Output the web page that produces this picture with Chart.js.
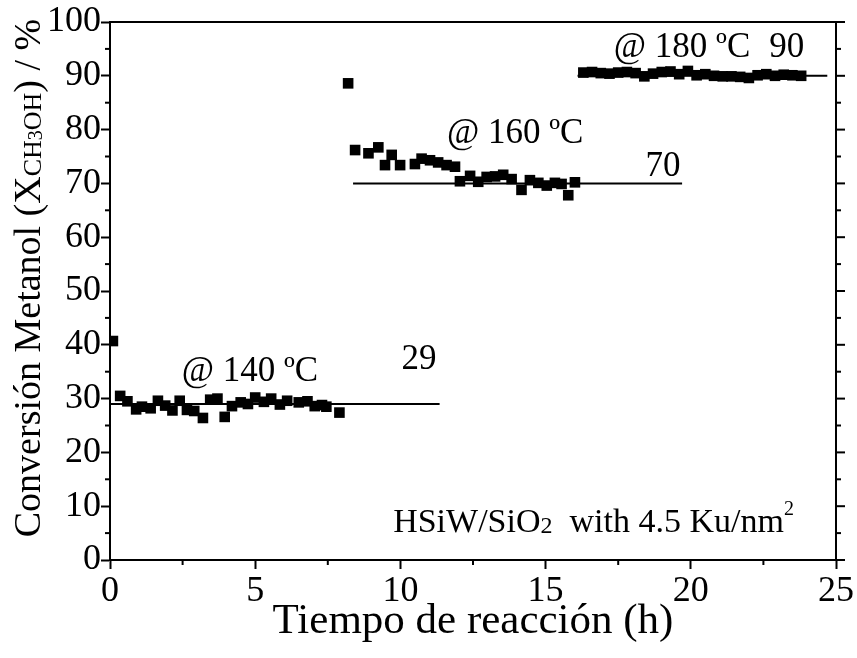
<!DOCTYPE html>
<html>
<head>
<meta charset="utf-8">
<script src="https://cdn.jsdelivr.net/npm/chart.js@4/dist/chart.umd.min.js"></script>
<style>
html,body{margin:0;padding:0;background:#fff;}
#wrap{width:857px;height:658px;position:relative;}
</style>
</head>
<body>
<div id="wrap"><canvas id="c" width="857" height="658"></canvas></div>
<script>
// ---- data ----
const time140 = [0.1,0.35,0.6,0.9,1.1,1.4,1.65,1.9,2.15,2.4,2.65,2.9,3.2,3.45,3.7,3.95,4.2,4.5,4.75,5.0,5.3,5.55,5.85,6.1,6.5,6.8,7.05,7.3,7.45,7.9];
const conv140 = [40.7,30.5,29.5,28.0,28.5,28.2,29.6,28.7,27.8,29.6,27.9,27.7,26.4,29.8,30.0,26.6,28.6,29.3,29.0,30.2,29.4,30.0,28.9,29.6,29.3,29.5,28.6,28.8,28.5,27.4];
const time160 = [8.2,8.44,8.9,9.24,9.47,9.7,9.99,10.5,10.73,11.02,11.3,11.59,11.88,12.05,12.4,12.68,12.97,13.26,13.54,13.83,14.17,14.46,14.75,15.04,15.32,15.55,15.78,16.01];
const conv160 = [88.6,76.2,75.6,76.7,73.4,75.3,73.4,73.6,74.6,74.3,73.9,73.4,73.1,70.4,71.4,70.3,71.2,71.3,71.6,70.8,68.8,70.6,70.1,69.6,70.1,69.9,67.8,70.2];
const time180 = [16.3,16.6,16.9,17.2,17.5,17.8,18.1,18.4,18.7,19.0,19.3,19.6,19.9,20.2,20.5,20.8,21.1,21.4,21.7,22.0,22.3,22.6,22.9,23.2,23.5,23.8];
const conv180 = [90.6,90.7,90.5,90.4,90.6,90.7,90.5,89.9,90.4,90.7,90.8,90.3,90.9,90.1,90.3,90.0,89.9,89.9,89.8,89.6,90.1,90.3,90.0,90.2,90.1,90.0];
const avgValues = [29,70,90];
const avgStart = [0,8.37,16.1];
const avgEnd = [11.35,19.7,24.7];
const xTicks = [0,5,10,15,20,25];
const yTicks = [0,10,20,30,40,50,60,70,80,90,100];

const SERIF = '"Liberation Serif","DejaVu Serif","Times New Roman",serif';

function pts(xs, ys){ return xs.map((x,i)=>({x:x,y:ys[i]})); }

const datasets = [];
[[time140,conv140],[time160,conv160],[time180,conv180]].forEach(([t,c])=>{
  datasets.push({type:'scatter',data:pts(t,c),pointStyle:'rect',pointRadius:7.5,pointHoverRadius:7.5,
    backgroundColor:'#000',borderColor:'#000',borderWidth:0,showLine:false,order:1});
});
avgValues.forEach((v,i)=>{
  datasets.push({type:'line',data:[{x:avgStart[i],y:v},{x:avgEnd[i],y:v}],borderColor:'#000',borderWidth:2,
    pointRadius:0,fill:false,order:2});
});

const labels = [
  {text:'@ 140 ºC', x:4.82, y:34.9},
  {text:'29', x:10.64, y:37.2},
  {text:'@ 160 ºC', x:13.95, y:79.2},
  {text:'70', x:19.04, y:73.0},
  {text:'@ 180 ºC', x:19.7, y:95.2},
  {text:'90', x:23.3, y:95.2}
];

const decor = {
  id:'decor',
  afterDraw(chart){
    const ctx = chart.ctx, a = chart.chartArea, xs = chart.scales.x, ys = chart.scales.y;
    ctx.save();
    ctx.strokeStyle='#000'; ctx.lineWidth=2;
    // box
    ctx.strokeRect(a.left, a.top, a.right-a.left, a.bottom-a.top);
    // minor ticks
    for(let v=5; v<100; v+=10){
      const p = ys.getPixelForValue(v);
      ctx.beginPath(); ctx.moveTo(a.left-5,p); ctx.lineTo(a.left,p); ctx.stroke();
      ctx.beginPath(); ctx.moveTo(a.right,p); ctx.lineTo(a.right+5,p); ctx.stroke();
    }
    yTicks.forEach(v=>{
      const p = ys.getPixelForValue(v);
      ctx.beginPath(); ctx.moveTo(a.right,p); ctx.lineTo(a.right+9,p); ctx.stroke();
    });
    for(let v=2.5; v<25; v+=5){
      const p = xs.getPixelForValue(v);
      ctx.beginPath(); ctx.moveTo(p,a.bottom); ctx.lineTo(p,a.bottom+5); ctx.stroke();
    }
    // annotations
    ctx.fillStyle='#000';
    ctx.font = '35px '+SERIF;
    ctx.textAlign='center'; ctx.textBaseline='middle';
    labels.forEach(l=>{
      ctx.fillText(l.text, xs.getPixelForValue(l.x), ys.getPixelForValue(l.y));
    });
    // catalyst label with sub/superscript
    let x = xs.getPixelForValue(9.75), y = ys.getPixelForValue(6.9);
    ctx.textAlign='left'; ctx.textBaseline='middle';
    const parts = [
      ['HSiW/SiO', 34, 0],
      ['2', 24, 4],
      ['  with 4.5 Ku/nm', 34, 0],
      ['2', 20, -13]
    ];
    parts.forEach(([t,s,dy])=>{
      ctx.font = s+'px '+SERIF;
      ctx.fillText(t, x, y+dy);
      x += ctx.measureText(t).width;
    });
    // y-axis title
    ctx.translate(30, 278);
    ctx.rotate(-Math.PI/2);
    const tparts = [
      ['Conversión Metanol (X', 38, 0],
      ['CH', 26, 4],
      ['3', 20, 7],
      ['OH', 26, 4],
      [') / %', 38, 0]
    ];
    let w = 0;
    tparts.forEach(([t,s])=>{ ctx.font = s+'px '+SERIF; w += ctx.measureText(t).width; });
    let cx = -w/2;
    tparts.forEach(([t,s,dy])=>{
      ctx.font = s+'px '+SERIF;
      ctx.fillText(t, cx, dy);
      cx += ctx.measureText(t).width;
    });
    ctx.restore();
  }
};

new Chart(document.getElementById('c'), {
  data:{datasets:datasets},
  options:{
    responsive:false, animation:false, devicePixelRatio:1,
    layout:{padding:{left:0,right:21,top:22,bottom:0}},
    plugins:{legend:{display:false},tooltip:{enabled:false}},
    scales:{
      x:{type:'linear',min:0,max:25,
        afterBuildTicks(s){ s.ticks = xTicks.map(v=>({value:v})); },
        afterFit(s){ s.height = 98; },
        grid:{drawOnChartArea:false,tickLength:9,tickWidth:2,color:'#000'},
        border:{display:true,color:'#000',width:2},
        ticks:{color:'#000',font:{family:SERIF,size:36},padding:1,maxRotation:0,autoSkip:false},
        title:{display:true,text:'Tiempo de reacción (h)',color:'#000',font:{family:SERIF,size:43},padding:{top:0,bottom:10}}
      },
      y:{type:'linear',min:0,max:100,
        afterBuildTicks(s){ s.ticks = yTicks.map(v=>({value:v})); },
        afterFit(s){ s.width = 110; },
        grid:{drawOnChartArea:false,tickLength:9,tickWidth:2,color:'#000'},
        border:{display:true,color:'#000',width:2},
        ticks:{color:'#000',font:{family:SERIF,size:36},padding:0,autoSkip:false},
        title:{display:false}
      }
    }
  },
  plugins:[decor]
});
</script>
</body>
</html>
